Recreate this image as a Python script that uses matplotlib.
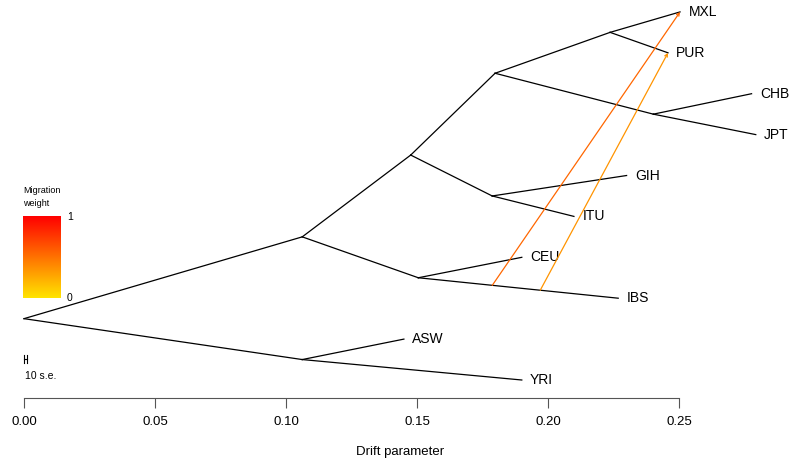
import numpy as np
import matplotlib
matplotlib.use('Agg')
import matplotlib.pyplot as plt
from matplotlib.colors import LinearSegmentedColormap, hsv_to_rgb

plt.rcParams['font.family'] = ['Liberation Sans', 'DejaVu Sans']

# tree nodes: name, drift (x), vertical slot (y)
nodes = ['root', 'A', 'B', 'C', 'D', 'E', 'F', 'G', 'H',
         'MXL', 'PUR', 'CHB', 'JPT', 'GIH', 'ITU', 'CEU', 'IBS', 'ASW', 'YRI']
drift = [0.0, 0.1062, 0.1062, 0.1505, 0.1476, 0.1787, 0.1798, 0.2237, 0.2402,
         0.2504, 0.2458, 0.2777, 0.2793, 0.2300, 0.2099, 0.1900, 0.2268, 0.1450, 0.1900]
ypos = [0.25, 0.15, 0.45, 0.35, 0.65, 0.55, 0.85, 0.95, 0.75,
        1.0, 0.9, 0.8, 0.7, 0.6, 0.5, 0.4, 0.3, 0.2, 0.1]
tips = ['MXL', 'PUR', 'CHB', 'JPT', 'GIH', 'ITU', 'CEU', 'IBS', 'ASW', 'YRI']

edges = [('root', 'A'), ('root', 'B'), ('A', 'ASW'), ('A', 'YRI'),
         ('B', 'C'), ('B', 'D'), ('C', 'CEU'), ('C', 'IBS'),
         ('D', 'E'), ('D', 'F'), ('E', 'GIH'), ('E', 'ITU'),
         ('F', 'G'), ('F', 'H'), ('G', 'MXL'), ('G', 'PUR'),
         ('H', 'CHB'), ('H', 'JPT')]

# migration events: source edge, position along it, target, weight
mig_edge = [('C', 'IBS'), ('C', 'IBS')]
mig_frac = [0.37, 0.61]
mig_to = ['MXL', 'PUR']
mig_w = [0.55, 0.35]

se = 0.00011
xticks = [0.00, 0.05, 0.10, 0.15, 0.20, 0.25]

pos = {n: (x, y) for n, x, y in zip(nodes, drift, ypos)}

# heat colours, yellow (0) -> red (1)
hues = np.linspace(53.6 / 360, 0, 256)
cols = hsv_to_rgb(np.column_stack([hues, np.ones(256), np.ones(256)]))
heat = LinearSegmentedColormap.from_list('heat', cols)

fig = plt.figure(figsize=(7.9, 4.65), dpi=100)
ax = fig.add_axes([24 / 790, 67 / 465, 655 / 790, 393 / 465])
ax.set_xlim(0, 0.25)
ax.set_ylim(0.056, 1.0169)

for p, c in edges:
    (x0, y0), (x1, y1) = pos[p], pos[c]
    ax.plot([x0, x1], [y0, y1], color='black', lw=0.9, clip_on=False)

for t in tips:
    ax.annotate(t, pos[t], xytext=(6, 0), textcoords='offset points',
                va='center', ha='left', fontsize=10, annotation_clip=False)

for (p, c), f, tgt, w in zip(mig_edge, mig_frac, mig_to, mig_w):
    (x0, y0), (x1, y1) = pos[p], pos[c]
    sx, sy = x0 + f * (x1 - x0), y0 + f * (y1 - y0)
    ax.annotate('', xy=pos[tgt], xytext=(sx, sy), annotation_clip=False,
                arrowprops=dict(arrowstyle='->,head_length=0.2,head_width=0.1',
                                color=heat(w), lw=0.9, shrinkA=0, shrinkB=0))

# scale bar
ax.plot([0, 10 * se], [0.151, 0.151], color='black', lw=0.8, clip_on=False)
for xe in [0, 10 * se]:
    ax.plot([xe, xe], [0.142, 0.160], color='black', lw=0.8, clip_on=False)
ax.text(0.0005, 0.11, '10 s.e.', fontsize=7.5, va='center', ha='left')

for s in ['top', 'right', 'left']:
    ax.spines[s].set_visible(False)
ax.spines['bottom'].set_color('#555555')
ax.set_yticks([])
ax.set_xticks(xticks)
ax.set_xticklabels(['%.2f' % v for v in xticks], fontsize=9.5)
ax.tick_params(axis='x', length=7, color='#555555', pad=6)
fig.text(400 / 790, 1 - 452 / 465, 'Drift parameter', fontsize=9.5,
         ha='center', va='center')

# migration weight legend
cax = fig.add_axes([23 / 790, 1 - 298 / 465, 38 / 790, 82 / 465])
cax.imshow(np.linspace(1, 0, 200).reshape(-1, 1), cmap=heat, aspect='auto',
           extent=[0, 1, 0, 1])
cax.set_axis_off()
fig.text(23 / 790, 1 - 190 / 465, 'Migration', fontsize=6.5, va='center')
fig.text(23 / 790, 1 - 203 / 465, 'weight', fontsize=6.5, va='center')
fig.text(67 / 790, 1 - 217 / 465, '1', fontsize=7.5, va='center')
fig.text(67 / 790, 1 - 298 / 465, '0', fontsize=7.5, va='center')

fig.savefig('out.png', dpi=100)
